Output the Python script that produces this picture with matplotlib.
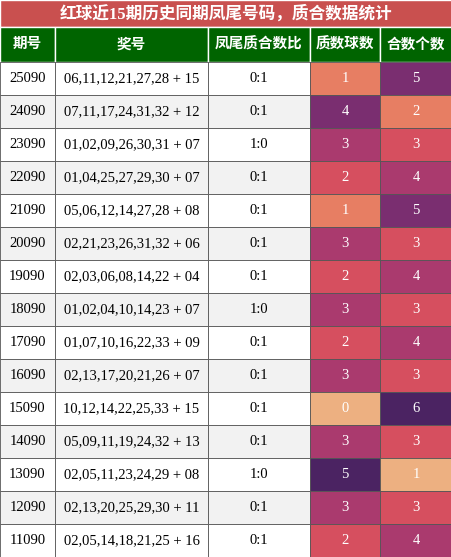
import matplotlib.pyplot as plt
import seaborn as sns
from matplotlib.patches import Rectangle
from matplotlib.colors import Normalize

title = '红球近15期历史同期凤尾号码，质合数据统计'
headers = ['期号', '奖号', '凤尾质合数比', '质数球数', '合数个数']
issues = ['25090', '24090', '23090', '22090', '21090', '20090', '19090', '18090',
          '17090', '16090', '15090', '14090', '13090', '12090', '11090']
numbers = ['06,11,12,21,27,28 + 15', '07,11,17,24,31,32 + 12', '01,02,09,26,30,31 + 07',
           '01,04,25,27,29,30 + 07', '05,06,12,14,27,28 + 08', '02,21,23,26,31,32 + 06',
           '02,03,06,08,14,22 + 04', '01,02,04,10,14,23 + 07', '01,07,10,16,22,33 + 09',
           '02,13,17,20,21,26 + 07', '10,12,14,22,25,33 + 15', '05,09,11,19,24,32 + 13',
           '02,05,11,23,24,29 + 08', '02,13,20,25,29,30 + 11', '02,05,14,18,21,25 + 16']
ratios = ['0:1', '0:1', '1:0', '0:1', '0:1', '0:1', '0:1', '1:0', '0:1', '0:1',
          '0:1', '0:1', '1:0', '0:1', '0:1']
primes = [1, 4, 3, 2, 1, 3, 2, 3, 2, 3, 0, 3, 5, 3, 2]
composites = [5, 2, 3, 4, 5, 3, 4, 3, 4, 3, 6, 3, 1, 3, 4]

W, H = 452, 557
cols = [0, 55, 208, 310, 380, 452]
title_h, head_h = 27, 35
row_h = (H - title_h - head_h) / len(issues)
fam = ['Liberation Serif', 'Noto Sans CJK SC']
cmap = sns.color_palette('flare', as_cmap=True)

fig = plt.figure(figsize=(W / 100, H / 100), dpi=100)
ax = fig.add_axes([0, 0, 1, 1])
ax.set_xlim(0, W)
ax.set_ylim(H, 0)
ax.axis('off')

ax.add_patch(Rectangle((0, 0), W, title_h, fc='#c9504f', ec='white', lw=1))
ax.text(W / 2, title_h / 2, title, color='white', fontsize=12, fontweight='bold',
        ha='center', va='center', family=fam)
for i, h in enumerate(headers):
    ax.add_patch(Rectangle((cols[i], title_h), cols[i + 1] - cols[i], head_h,
                           fc='#006400', ec='white', lw=1))
    ax.text((cols[i] + cols[i + 1]) / 2, title_h + head_h / 2, h, color='white',
            fontsize=10.5, fontweight='bold', ha='center', va='center', family=fam)

norm_p = Normalize(min(primes), max(primes))
norm_c = Normalize(min(composites), max(composites))
for r in range(len(issues)):
    y = title_h + head_h + r * row_h
    bg = 'white' if r % 2 == 0 else '#f2f2f2'
    vals = [issues[r], numbers[r], ratios[r], str(primes[r]), str(composites[r])]
    fcs = [bg, bg, bg, cmap(norm_p(primes[r])), cmap(norm_c(composites[r]))]
    for c in range(5):
        ax.add_patch(Rectangle((cols[c], y), cols[c + 1] - cols[c], row_h,
                               fc=fcs[c], ec='#555555', lw=0.6))
        ax.text((cols[c] + cols[c + 1]) / 2, y + row_h / 2, vals[c],
                color='black' if c < 3 else 'white', fontsize=10.5,
                ha='center', va='center', family=fam)

fig.savefig('out.png', dpi=100)
